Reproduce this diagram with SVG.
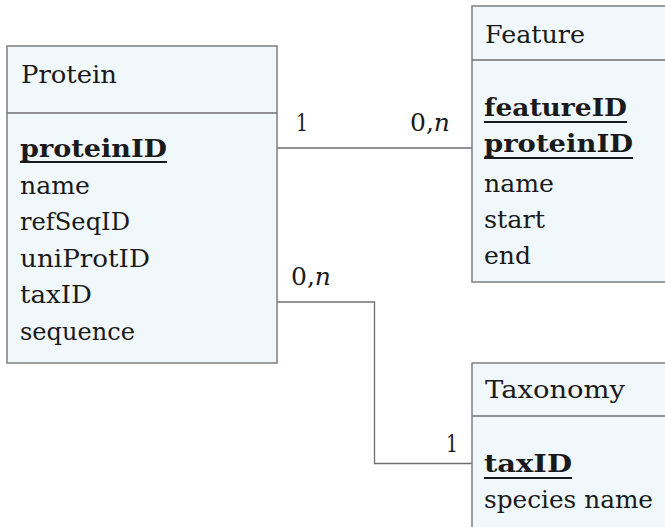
<svg xmlns="http://www.w3.org/2000/svg" width="665" height="527" viewBox="0 0 665 527">
  <style>
    .box { fill: #f1f8fc; stroke: #7f7f7f; stroke-width: 1.5; }
    .div { stroke: #6f6f6f; stroke-width: 1.3; }
    .t { font-family: 'DejaVu Serif', 'Liberation Serif', serif; font-size: 25px; fill: #1a1a1a; }
    .k { font-weight: bold; }
    .ul { stroke: #1a1a1a; stroke-width: 2; }
    .conn { fill: none; stroke: #6f6f6f; stroke-width: 1.3; }
  </style>
  <rect width="665" height="527" fill="#ffffff"/>

  <!-- relationship lines -->
  <g id="connectors">
    <path class="conn" d="M277,148 H472"/>
    <path class="conn" d="M277,302 H374.5 V463.5 H472"/>
    <text class="t" x="296" y="131" textLength="12" lengthAdjust="spacingAndGlyphs">1</text>
    <text class="t" x="410" y="131">0,<tspan font-style="italic">n</tspan></text>
    <text class="t" x="291" y="285">0,<tspan font-style="italic">n</tspan></text>
    <text class="t" x="446" y="452" textLength="12" lengthAdjust="spacingAndGlyphs">1</text>
  </g>

  <!-- Protein entity -->
  <g id="protein">
    <rect class="box" x="7" y="46" width="270" height="317"/>
    <line class="div" x1="7" y1="113" x2="277" y2="113"/>
    <text class="t" x="21" y="83" textLength="96" lengthAdjust="spacingAndGlyphs">Protein</text>
    <text class="t k" x="20" y="157" textLength="147" lengthAdjust="spacingAndGlyphs">proteinID</text>
    <line class="ul" x1="20" y1="162" x2="167" y2="162"/>
    <text class="t" x="20" y="193.5" textLength="70" lengthAdjust="spacingAndGlyphs">name</text>
    <text class="t" x="20" y="230" textLength="110" lengthAdjust="spacingAndGlyphs">refSeqID</text>
    <text class="t" x="20" y="266.5" textLength="130" lengthAdjust="spacingAndGlyphs">uniProtID</text>
    <text class="t" x="20" y="303" textLength="72" lengthAdjust="spacingAndGlyphs">taxID</text>
    <text class="t" x="20" y="339.5" textLength="115" lengthAdjust="spacingAndGlyphs">sequence</text>
  </g>

  <!-- Feature entity -->
  <g id="feature">
    <rect class="box" x="472" y="6" width="210" height="276"/>
    <line class="div" x1="472" y1="60" x2="682" y2="60"/>
    <text class="t" x="485" y="43" textLength="100" lengthAdjust="spacingAndGlyphs">Feature</text>
    <text class="t k" x="484" y="116" textLength="143" lengthAdjust="spacingAndGlyphs">featureID</text>
    <line class="ul" x1="484" y1="122" x2="627" y2="122"/>
    <text class="t k" x="484" y="152" textLength="149" lengthAdjust="spacingAndGlyphs">proteinID</text>
    <line class="ul" x1="484" y1="158" x2="633" y2="158"/>
    <text class="t" x="484" y="192" textLength="70" lengthAdjust="spacingAndGlyphs">name</text>
    <text class="t" x="484" y="228" textLength="61" lengthAdjust="spacingAndGlyphs">start</text>
    <text class="t" x="484" y="264" textLength="47" lengthAdjust="spacingAndGlyphs">end</text>
  </g>

  <!-- Taxonomy entity -->
  <g id="taxonomy">
    <rect class="box" x="472" y="363" width="210" height="180"/>
    <line class="div" x1="472" y1="416" x2="682" y2="416"/>
    <text class="t" x="485" y="398" textLength="140" lengthAdjust="spacingAndGlyphs">Taxonomy</text>
    <text class="t k" x="484" y="472" textLength="88" lengthAdjust="spacingAndGlyphs">taxID</text>
    <line class="ul" x1="484" y1="478" x2="572" y2="478"/>
    <text class="t" x="484" y="508" textLength="169" lengthAdjust="spacingAndGlyphs">species name</text>
  </g>
</svg>
